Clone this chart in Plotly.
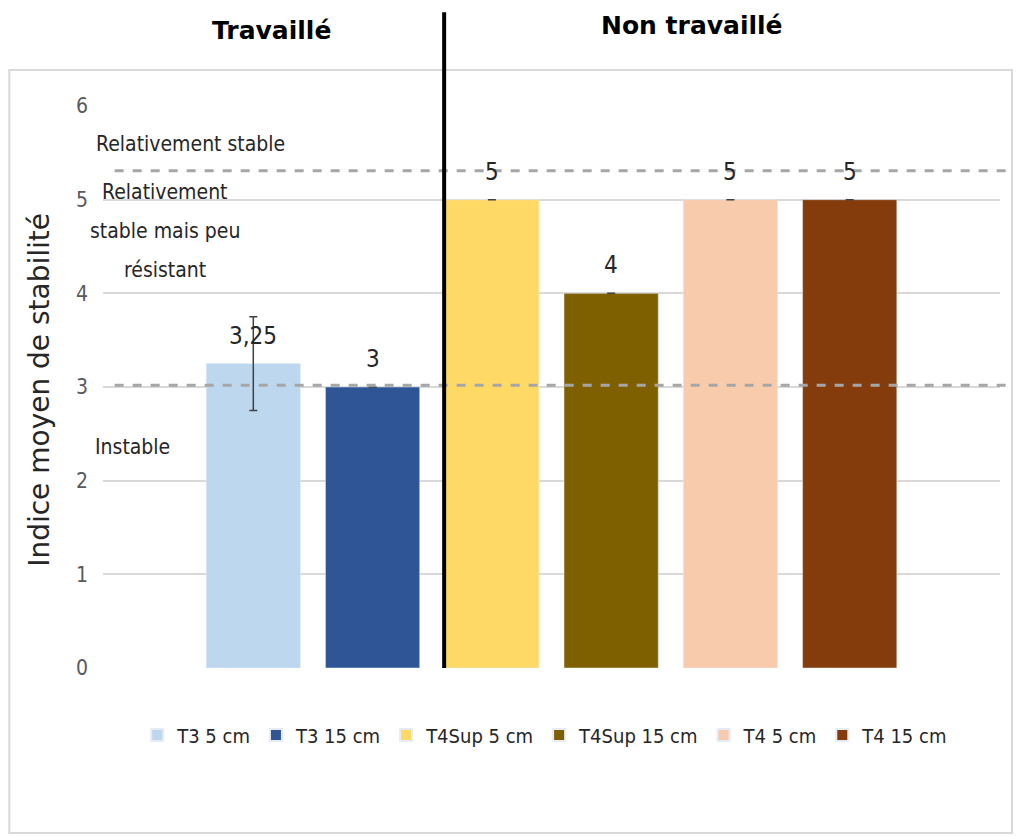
import plotly.graph_objects as go

categories = ["T3 5 cm", "T3 15 cm", "T4Sup 5 cm", "T4Sup 15 cm", "T4 5 cm", "T4 15 cm"]
values = [3.25, 3, 5, 4, 5, 5]
errors = [0.5, 0, 0, 0, 0, 0]
labels = ["3,25", "3", "5", "4", "5", "5"]
colors = ["#BDD7EE", "#2F5597", "#FFD966", "#7F6000", "#F8CBAD", "#843C0C"]
thresholds = [5.31, 3.02]
group_titles = ["Travaillé", "Non travaillé"]

NARROW = "DejaVu Sans Condensed, Liberation Sans Narrow, Roboto, sans-serif"
GOTHIC = "DejaVu Sans, sans-serif"

fig = go.Figure()
for cat, v, e, c in zip(categories, values, errors, colors):
    fig.add_trace(go.Bar(
        x=[cat], y=[v], name=cat, marker_color=c, width=0.79,
        error_y=dict(type="data", array=[e], visible=True, color="#404040",
                     thickness=1.5, width=4),
        showlegend=True,
    ))

# value labels
for cat, v, e, lab in zip(categories, values, errors, labels):
    fig.add_annotation(x=cat, y=v, text=lab, showarrow=False, yshift=28,
                       font=dict(family=NARROW, size=24, color="#262626"))

# threshold dashed lines
for t in thresholds:
    fig.add_shape(type="line", xref="paper", yref="y", x0=0.013, x1=1.008, y0=t, y1=t,
                  line=dict(color="#A6A6A6", width=3, dash="dash"))

# separator line
fig.add_shape(type="line", xref="x", yref="paper", x0=1.6, x1=1.6, y0=0, y1=1.167,
              line=dict(color="black", width=4))

# outer box
fig.add_shape(type="rect", xref="paper", yref="paper", x0=-0.1045, x1=1.0134,
              y0=-0.2936, y1=1.064, line=dict(color="#D9D9D9", width=2),
              fillcolor="rgba(0,0,0,0)", layer="below")

# zone labels
zone_font = dict(family=NARROW, size=21, color="#262626")
fig.add_annotation(xref="paper", yref="y", x=0.098, y=5.59, text="Relativement stable",
                   xanchor="center", showarrow=False, font=zone_font)
for txt, yy in zip(["Relativement", "stable mais peu", "résistant"], [5.085, 4.67, 4.25]):
    fig.add_annotation(xref="paper", yref="y", x=0.069, y=yy, text=txt, xanchor="center",
                       showarrow=False, font=zone_font)
fig.add_annotation(xref="paper", yref="y", x=0.033, y=2.36, text="Instable", xanchor="center",
                   showarrow=False, font=zone_font)

# group titles
fig.add_annotation(xref="paper", yref="paper", x=0.188, y=1.135, text="<b>" + group_titles[0] + "</b>",
                   xanchor="center", yanchor="middle",
                   showarrow=False, font=dict(family=GOTHIC, size=25, color="black"))
fig.add_annotation(xref="paper", yref="paper", x=0.657, y=1.144, text="<b>" + group_titles[1] + "</b>",
                   xanchor="center", yanchor="middle",
                   showarrow=False, font=dict(family=GOTHIC, size=25, color="black"))

# y axis title
fig.add_annotation(xref="paper", yref="paper", x=-0.0702, y=0.495, text="Indice moyen de stabilité",
                   xanchor="center", yanchor="middle",
                   textangle=-90, showarrow=False, font=dict(family=GOTHIC, size=28, color="#262626"))

fig.update_layout(
    width=1016, height=828,
    margin=dict(l=95, r=24, t=98, b=168),
    paper_bgcolor="white", plot_bgcolor="white",
    legend=dict(orientation="h", x=0.493, xanchor="center", y=-0.119, yanchor="middle",
                font=dict(family=NARROW, size=20, color="#262626"),
                itemwidth=30, tracegroupgap=0, itemsizing="constant"),
    showlegend=True,
)
fig.update_xaxes(type="category", range=[-1.26, 6.26], showticklabels=False,
                 showgrid=False, zeroline=False, showline=False)
fig.update_yaxes(range=[0, 6], dtick=1, showgrid=True, gridcolor="#D9D9D9", gridwidth=1.5,
                 zeroline=False, showline=False, ticklabelstandoff=14,
                 tickfont=dict(family=NARROW, size=21, color="#595959"))

fig.write_html("out.html")
